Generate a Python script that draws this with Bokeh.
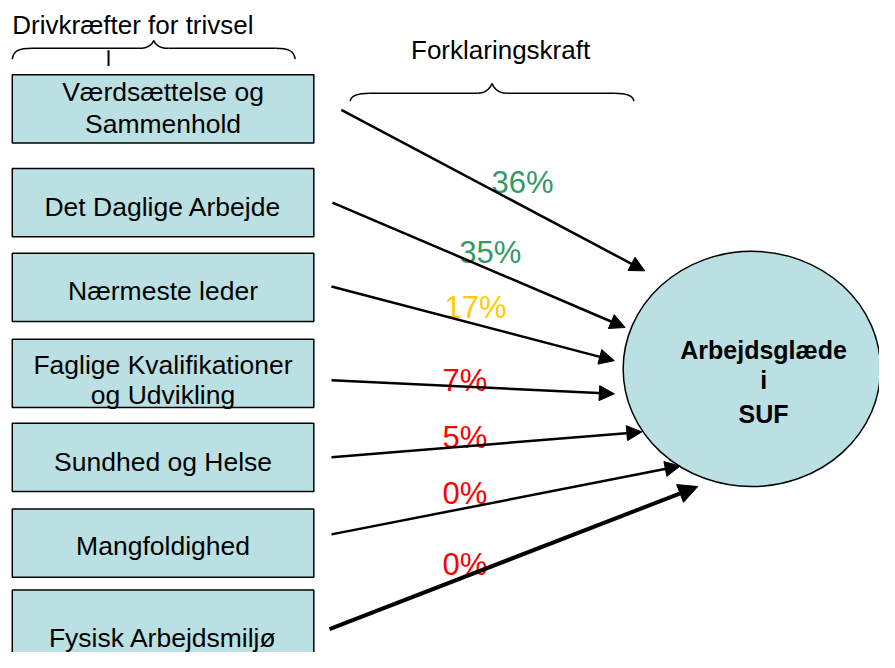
from bokeh.plotting import figure
from bokeh.models import Range1d, Arrow, NormalHead
from bokeh.core.properties import value
from bokeh.embed import file_html
from bokeh.resources import INLINE

# ---------------- data ----------------
drivers = [
    "Værdsættelse og\nSammenhold",
    "Det Daglige Arbejde",
    "Nærmeste leder",
    "Faglige Kvalifikationer\nog Udvikling",
    "Sundhed og Helse",
    "Mangfoldighed",
    "Fysisk Arbejdsmiljø",
]
explained_pct = [36, 35, 17, 7, 5, 0, 0]
pct_colors = ["#339966", "#339966", "#FFCC00", "#FF0000", "#FF0000", "#FF0000", "#FF0000"]
left_title = "Drivkræfter for trivsel"
right_title = "Forklaringskraft"
outcome_lines = ["Arbejdsglæde", "i", "SUF"]

# ---------------- layout (pixels of the reference picture) ----------------
box_left, box_right, box_h = 12, 319, 70
box_tops = [76, 172, 259, 347, 433, 521, 604]
text_centers = [[94, 127], [212], [298], [373, 404], [473], [559], [653]]
arrow_start = [(347, 112), (338, 207), (337, 293), (337, 389), (337, 468), (337, 547), (335, 644)]
arrow_end = [(656, 277), (636, 335), (625, 369), (625, 403), (653, 442), (692, 477), (710, 498)]
arrow_width = [2.5, 2.5, 2.5, 2.5, 2.5, 2.5, 4]
pct_x = [500, 467, 452, 450, 450, 450, 450]
pct_center = [186, 258, 315, 389, 448, 505, 578]

FILL = "#BBE0E3"
FONT = "Liberation Sans"

p = figure(width=879, height=652, output_backend="svg", toolbar_location=None,
           x_range=Range1d(0, 895), y_range=Range1d(668, 0),
           x_axis_location=None, y_axis_location=None, min_border=0)
p.grid.visible = False
p.outline_line_color = None
p.background_fill_color = "white"
p.border_fill_color = "white"

# boxes
p.quad(left=[box_left] * len(box_tops), right=[box_right] * len(box_tops),
       top=box_tops, bottom=[t + box_h for t in box_tops],
       fill_color=FILL, line_color="black", line_width=1.5)

# box texts
tx, ty, tt = [], [], []
for lab, cents in zip(drivers, text_centers):
    for line, c in zip(lab.split("\n"), cents):
        tx.append((box_left + box_right) / 2)
        ty.append(c)
        tt.append(line)
p.text(x=tx, y=ty, text=tt, text_font=value(FONT), text_font_size=value("26.5px"),
       text_align="center", text_baseline="middle", text_color="black")

# titles
p.text(x=[12], y=[25], text=[left_title], text_font=value(FONT), text_font_size=value("26px"),
       text_align="left", text_baseline="middle", text_color="black")
p.text(x=[418], y=[51], text=[right_title], text_font=value(FONT), text_font_size=value("26px"),
       text_align="left", text_baseline="middle", text_color="black")


# braces
def brace(x0, x1, y, peak, drop):
    xm = (x0 + x1) / 2
    segs = [
        ((x0, y + drop), (x0 + 20, y), (x0 + 1, y + 2), (x0 + 8, y)),
        ((xm - 15, y), (xm, y - peak), (xm - 5, y), (xm - 1, y - peak + 3)),
        ((xm, y - peak), (xm + 15, y), (xm + 1, y - peak + 3), (xm + 5, y)),
        ((x1 - 20, y), (x1, y + drop), (x1 - 8, y), (x1 - 1, y + 2)),
    ]
    for (s, e, c0, c1) in segs:
        p.bezier(x0=[s[0]], y0=[s[1]], x1=[e[0]], y1=[e[1]],
                 cx0=[c0[0]], cy0=[c0[1]], cx1=[c1[0]], cy1=[c1[1]],
                 line_color="black", line_width=1.5)
    p.segment(x0=[x0 + 20, xm + 15], y0=[y, y], x1=[xm - 15, x1 - 20], y1=[y, y],
              line_color="black", line_width=1.5)


brace(12, 300, 49, 8, 11)
brace(356, 645, 95, 10, 8)
p.segment(x0=[110], y0=[51], x1=[110], y1=[67], line_color="black", line_width=2)

# outcome ellipse
p.ellipse(x=[765], y=[377.5], width=[262], height=[241],
          fill_color=FILL, line_color="black", line_width=1.5)
p.text(x=[777] * 3, y=[358, 389, 424], text=outcome_lines, text_font=value(FONT),
       text_font_size=value("25px"), text_font_style="bold",
       text_align="center", text_baseline="middle", text_color="black")

# arrows
for (s, e, w) in zip(arrow_start, arrow_end, arrow_width):
    head = NormalHead(size=15 if w < 3 else 19, fill_color="black", line_color="black", line_width=1)
    p.add_layout(Arrow(end=head, x_start=s[0], y_start=s[1], x_end=e[0], y_end=e[1],
                       line_color="black", line_width=w))

# percentages
p.text(x=pct_x, y=pct_center, text=[f"{v}%" for v in explained_pct], text_color=pct_colors,
       text_font=value(FONT), text_font_size=value("31px"),
       text_align="left", text_baseline="middle")

open("out.html", "w").write(file_html(p, INLINE))
